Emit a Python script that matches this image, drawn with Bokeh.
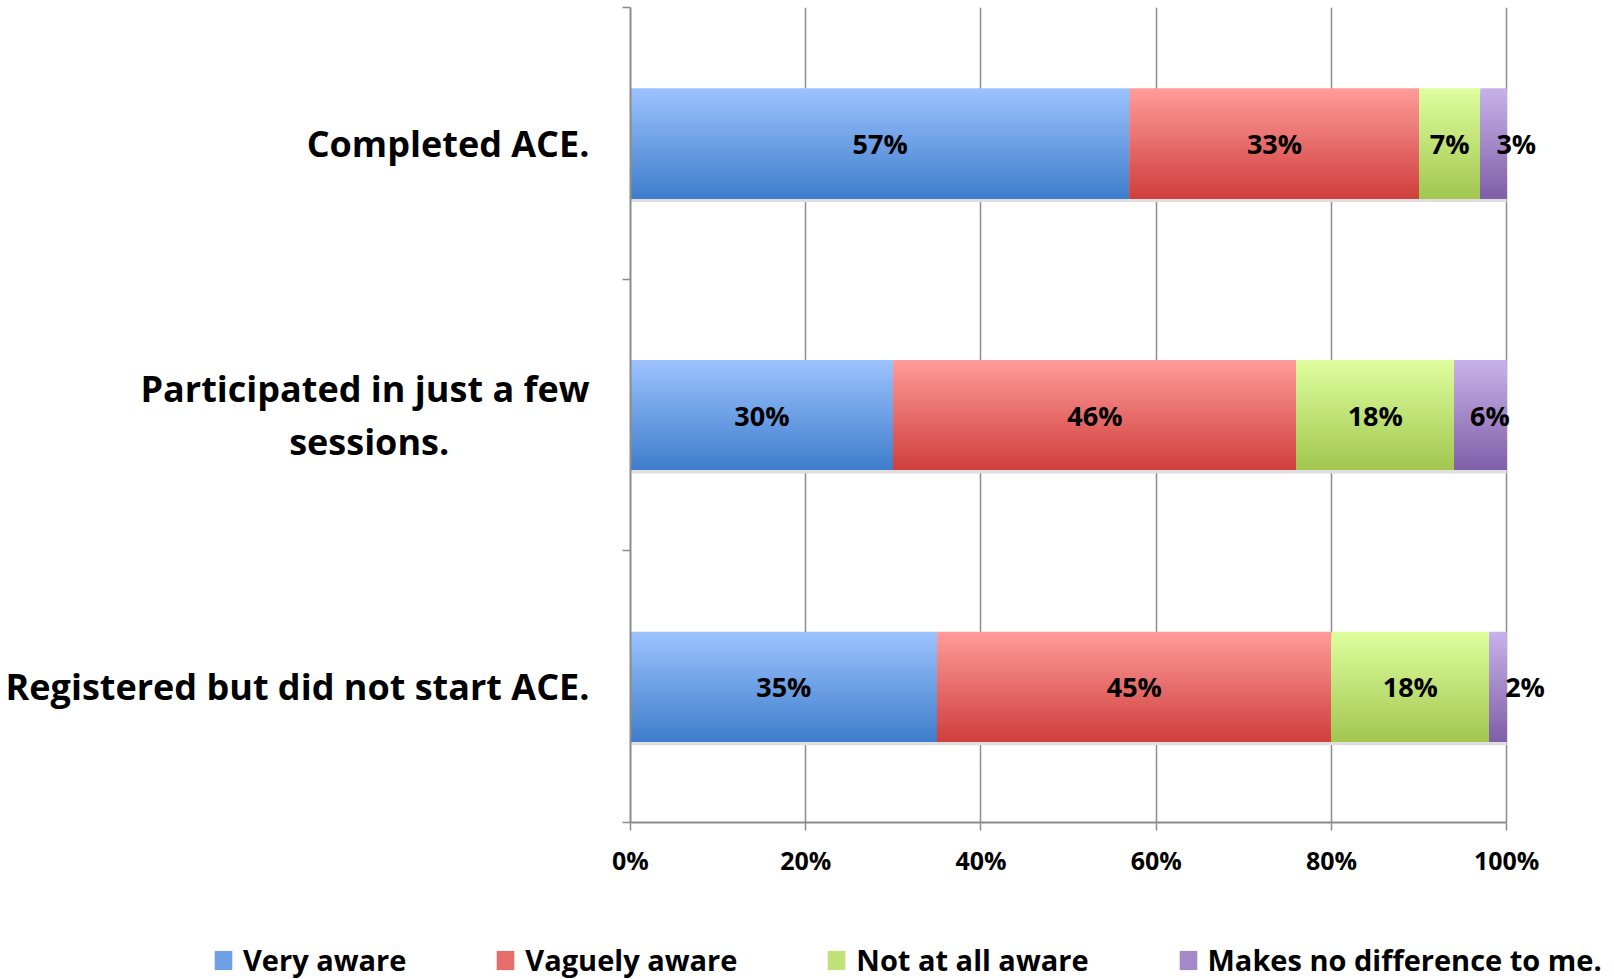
import numpy as np
from bokeh.plotting import figure
from bokeh.layouts import column
from bokeh.models import (Range1d, FixedTicker, Legend, LegendItem, ColumnDataSource)
from bokeh.embed import file_html
from bokeh.resources import INLINE
from bokeh.core.properties import value

# ---------------- data ----------------
NB = "\u00a0"
categories = ["Completed ACE.",
              "Participated in just a few\nsessions." + NB * 15,
              "Registered but did not start ACE."]
series_names = ["Very aware", "Vaguely aware", "Not at all aware",
                "Makes no difference to me."]
very_aware = [57, 30, 35]
vaguely_aware = [33, 46, 45]
not_at_all_aware = [7, 18, 18]
no_difference = [3, 6, 2]
x_ticks = [0, 20, 40, 60, 80, 100]
x_tick_labels = ["0%", "20%", "40%", "60%", "80%", "100%"]

series_values = [very_aware, vaguely_aware, not_at_all_aware, no_difference]
# gradient (top colour, bottom colour) per series
grad = [((0x9D, 0xC3, 0xFF), (0x3E, 0x7D, 0xCB)),
        ((0xFF, 0x9C, 0x9A), (0xCF, 0x3E, 0x3C)),
        ((0xDE, 0xFF, 0x9E), (0xA2, 0xC6, 0x50)),
        ((0xC8, 0xB2, 0xEA), (0x7F, 0x5F, 0xA8))]
label_align = ["center", "center", "center", "left"]

FONT = "Open Sans"
n = len(categories)
ypos = [n - i - 0.5 for i in range(n)]
bar_h = 0.405
N = 48

p = figure(width=1598, height=939, output_backend="svg", toolbar_location=None,
           x_range=Range1d(0, 105), y_range=Range1d(0, n),
           min_border_left=630, min_border_right=48, min_border_top=7,
           min_border_bottom=117)
p.frame_align = False
p.outline_line_color = None
p.background_fill_color = "white"
p.border_fill_color = "white"

# grid
p.xgrid.ticker = FixedTicker(ticks=x_ticks)
p.xgrid.grid_line_color = "#8c8c8c"
p.xgrid.grid_line_width = 1.5
p.ygrid.grid_line_color = None

# x axis
xa = p.xaxis[0]
xa.ticker = FixedTicker(ticks=x_ticks)
xa.bounds = (0, 100)
xa.major_label_overrides = {t: l for t, l in zip(x_ticks, x_tick_labels)}
xa.axis_line_color = "#8c8c8c"
xa.axis_line_width = 2
xa.major_tick_line_color = "#8c8c8c"
xa.major_tick_line_width = 1.5
xa.major_tick_out = 8
xa.major_tick_in = 0
xa.minor_tick_line_color = None
xa.major_label_text_font = FONT
xa.major_label_text_font_style = "bold"
xa.major_label_text_font_size = "25px"
xa.major_label_text_color = "black"
xa.major_label_standoff = 12

# y axis
ya = p.yaxis[0]
ya.ticker = FixedTicker(ticks=ypos, minor_ticks=[0, 1, 2, 3])
ya.major_label_overrides = {y: c for y, c in zip(ypos, categories)}
ya.axis_line_color = "#8c8c8c"
ya.axis_line_width = 2
ya.major_tick_line_color = None
ya.major_tick_out = 0
ya.major_tick_in = 0
ya.minor_tick_line_color = "#8c8c8c"
ya.minor_tick_line_width = 1.5
ya.minor_tick_out = 8
ya.minor_tick_in = 0
ya.major_label_text_font = FONT
ya.major_label_text_font_style = "bold"
ya.major_label_text_font_size = "36px"
ya.major_label_text_line_height = 1.07
ya.major_label_text_color = "black"
ya.major_label_standoff = 33

# bar shadows
totals = [sum(v[i] for v in series_values) for i in range(n)]
p.hbar(y=[y - bar_h / 2 - 0.006 for y in ypos], left=0, right=totals,
       height=0.014, fill_color="#dedede", line_color=None)

# legend figure
p2 = figure(width=1612, height=40, output_backend="svg", toolbar_location=None,
            x_range=Range1d(0, 1612), y_range=Range1d(0, 40),
            min_border_left=0, min_border_right=0, min_border_top=0,
            min_border_bottom=0)
p2.frame_align = False
p2.outline_line_color = None
p2.axis.visible = False
p2.grid.grid_line_color = None

# bars with vertical gradient
lefts = [0.0] * n
legend_items = []
for s, (name, vals) in enumerate(zip(series_names, series_values)):
    top, bot = grad[s]
    ys, hs, ls, rs, cols = [], [], [], [], []
    for k in range(N):
        t = (k + 0.5) / N
        c = tuple(int(round(top[j] + (bot[j] - top[j]) * t)) for j in range(3))
        col = "#%02x%02x%02x" % c
        for i in range(n):
            y_top = ypos[i] + bar_h / 2 - k * bar_h / N
            y_bot = ypos[i] - bar_h / 2
            ys.append((y_top + y_bot) / 2)
            hs.append(y_top - y_bot)
            ls.append(lefts[i])
            rs.append(lefts[i] + vals[i])
            cols.append(col)
    src = ColumnDataSource(dict(y=ys, h=hs, left=ls, right=rs, color=cols))
    p.hbar(y="y", left="left", right="right", height="h",
           fill_color="color", line_color=None, source=src)
    # legend swatch renderer (gradient mid colour), drawn off-range
    mid = tuple(int(round((top[j] + bot[j]) / 2)) for j in range(3))
    r = p2.hbar(y=[-1000], left=[0], right=[1], height=1,
                fill_color="#%02x%02x%02x" % mid, line_color=None)
    legend_items.append(LegendItem(label=name, renderers=[r]))
    # value labels
    if label_align[s] == "center":
        xs = [lefts[i] + vals[i] / 2 for i in range(n)]
        xo = 0
    else:
        xs = [lefts[i] for i in range(n)]
        xo = 16
    lsrc = ColumnDataSource(dict(x=xs, y=ypos, t=["%d%%" % v for v in vals]))
    p.text(x="x", y="y", text="t", source=lsrc, text_align=label_align[s],
           x_offset=xo, text_baseline="middle", text_font=value(FONT),
           text_font_style="bold", text_font_size="27px", text_color="black")
    lefts = [lefts[i] + vals[i] for i in range(n)]

legend = Legend(items=legend_items, orientation="horizontal",
                location=(212, 0), spacing=88,
                label_text_font=FONT, label_text_font_style="bold",
                label_text_font_size="29px", label_text_color="black",
                glyph_width=22, glyph_height=24, label_standoff=9,
                border_line_color=None, background_fill_alpha=0,
                padding=0, margin=0)
p2.add_layout(legend, "center")

layout = column(p, p2, spacing=0)
open("out.html", "w").write(file_html(layout, INLINE))
